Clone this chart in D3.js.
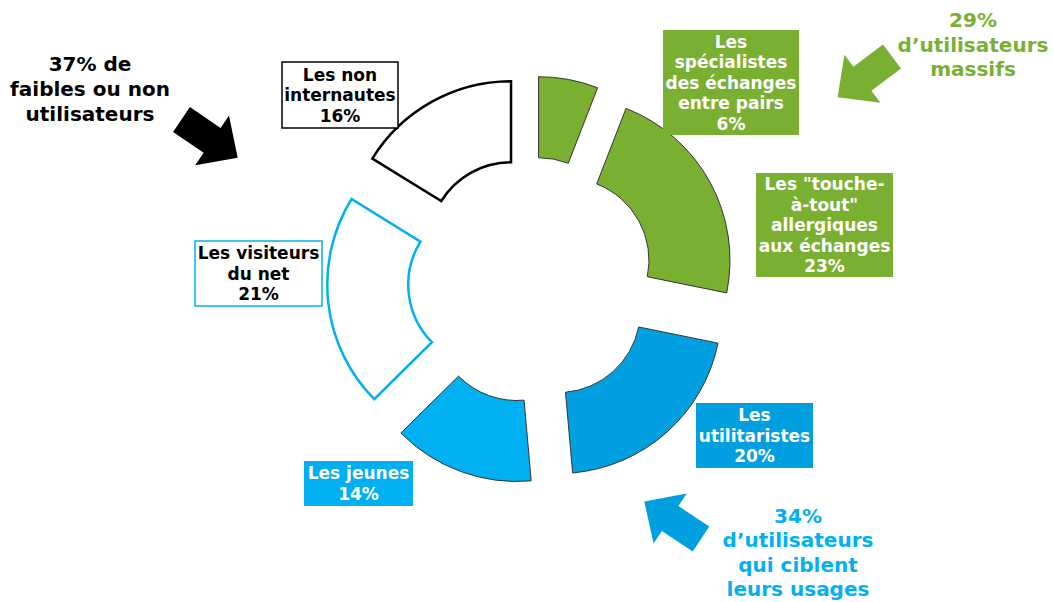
<!DOCTYPE html>
<html>
<head>
<meta charset="utf-8">
<script src="https://cdn.jsdelivr.net/npm/d3@7"></script>
<style>
  body { margin: 0; background: #fff; }
  text { font-family: "DejaVu Sans", Verdana, sans-serif; font-weight: bold; }
</style>
</head>
<body>
<script>
// Segments, clockwise from 12 o'clock
const categories = ["Les spécialistes des échanges entre pairs", "Les \"touche-à-tout\" allergiques aux échanges",
    "Les utilitaristes", "Les jeunes", "Les visiteurs du net", "Les non internautes"]
// arc sizes (labels show the rounded figures)
const shares = [5.9, 22.3, 20.4, 14.0, 21.2, 16.2]
const labelPct = ["6%", "23%", "20%", "14%", "21%", "16%"]
const labelLines = [
    ["Les", "spécialistes", "des échanges", "entre pairs"],
    ["Les \"touche-", "à-tout\"", "allergiques", "aux échanges"],
    ["Les", "utilitaristes"],
    ["Les jeunes"],
    ["Les visiteurs", "du net"],
    ["Les non", "internautes"]
]
// group annotations
const groupLines = [
    ["37% de", "faibles ou non", "utilisateurs"],
    ["29%", "d’utilisateurs", "massifs"],
    ["34%", "d’utilisateurs", "qui ciblent", "leurs usages"]
]

const GREEN = "#7AB032", BLUE = "#009FDF", LIGHT = "#00B0F0"
const fills = [GREEN, GREEN, BLUE, LIGHT, "#fff", "#fff"]
const strokes = ["#333", "#333", "#333", "#333", LIGHT, "#000"]
const strokeW = [1, 1, 1, 1, 2.5, 2.5]

const width = 1054, height = 602
const svg = d3.select("body").append("svg")
    .attr("width", width)
    .attr("height", height)

// Donut
const pie = d3.pie().sort(null).value(d => d)
const arc = d3.arc().innerRadius(82).outerRadius(163)
const explode = d3.arc().innerRadius(41).outerRadius(41) // pull-out distance

const donut = svg.append("g").attr("transform", "translate(531, 280)")
donut.selectAll("path")
    .data(pie(shares))
    .enter()
    .append("path")
    .attr("d", arc)
    .attr("transform", d => `translate(${explode.centroid(d)})`)
    .attr("fill", (d, i) => fills[i])
    .attr("stroke", (d, i) => strokes[i])
    .attr("stroke-width", (d, i) => strokeW[i])
    .attr("stroke-linejoin", "miter")

// Label boxes (layout)
const boxes = [
    {x: 663, y: 30, w: 136, h: 105, fill: GREEN, stroke: "none", color: "#fff"},
    {x: 756, y: 173, w: 137, h: 104, fill: GREEN, stroke: "none", color: "#fff"},
    {x: 696, y: 403, w: 117, h: 65, fill: BLUE, stroke: "none", color: "#fff"},
    {x: 304, y: 461, w: 109, h: 45, fill: LIGHT, stroke: "none", color: "#fff"},
    {x: 195, y: 241, w: 127, h: 65, fill: "#fff", stroke: LIGHT, color: "#000"},
    {x: 282, y: 62, w: 116, h: 66, fill: "#fff", stroke: "#000", color: "#000"}
]
const lh = 20.5
boxes.forEach((b, i) => {
    const lines = labelLines[i].concat([labelPct[i]])
    svg.append("rect")
        .attr("x", b.x).attr("y", b.y)
        .attr("width", b.w).attr("height", b.h)
        .attr("fill", b.fill)
        .attr("stroke", b.stroke)
        .attr("stroke-width", 1.5)
    const t = svg.append("text")
        .attr("text-anchor", "middle")
        .attr("fill", b.color)
        .style("font-size", "17px")
    const y0 = b.y + b.h / 2 - (lines.length - 1) * lh / 2 + 6
    lines.forEach((l, j) => {
        t.append("tspan").attr("x", b.x + b.w / 2).attr("y", y0 + j * lh).text(l)
    })
})

// Group annotations and block arrows
const notes = [
    {x: 90, y: 71, lh: 25, color: "#000", arrow: [181.5, 119.5, 34.3], arrowColor: "#000"},
    {x: 973, y: 27, lh: 24.5, color: GREEN, arrow: [892, 56.5, 143.1], arrowColor: GREEN},
    {x: 798, y: 523, lh: 24.3, color: LIGHT, arrow: [701, 539, -146.5], arrowColor: BLUE}
]
const arrowShape = "M0,-15L37,-15L37,-30L68,0L37,30L37,15L0,15Z"
notes.forEach((n, i) => {
    const t = svg.append("text")
        .attr("text-anchor", "middle")
        .attr("fill", n.color)
        .style("font-size", "20px")
    groupLines[i].forEach((l, j) => {
        t.append("tspan").attr("x", n.x).attr("y", n.y + j * n.lh).text(l)
    })
    svg.append("path")
        .attr("d", arrowShape)
        .attr("transform", `translate(${n.arrow[0]}, ${n.arrow[1]}) rotate(${n.arrow[2]})`)
        .attr("fill", n.arrowColor)
})
</script>
</body>
</html>
